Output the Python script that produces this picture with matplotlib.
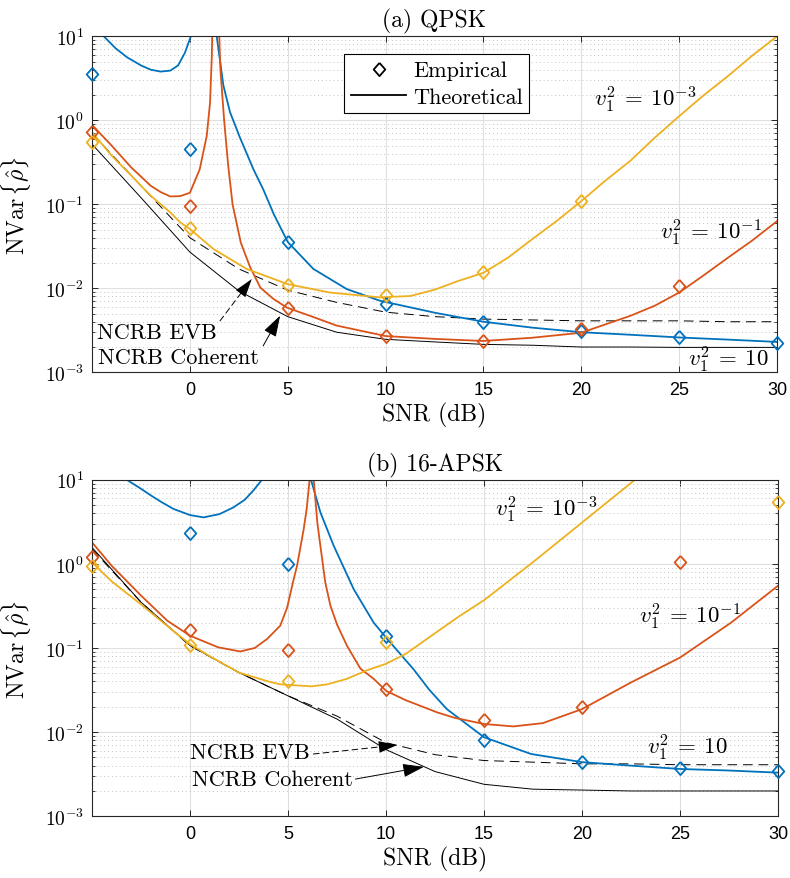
import numpy as np
import matplotlib
matplotlib.use("Agg")
import matplotlib.pyplot as plt
from matplotlib.ticker import LogLocator, NullFormatter
from matplotlib.lines import Line2D

plt.rcParams['font.family'] = 'serif'
plt.rcParams['font.serif'] = ['cmr10']
plt.rcParams['mathtext.fontset'] = 'cm'
plt.rcParams['axes.formatter.use_mathtext'] = True
plt.rcParams['xtick.direction'] = 'in'
plt.rcParams['ytick.direction'] = 'in'
plt.rcParams['xtick.top'] = True
plt.rcParams['ytick.right'] = True

BLUE = '#0072BD'
ORANGE = '#D95319'
YELLOW = '#EDB120'
nan = np.nan

# ---- (a) QPSK : theoretical curves (nan splits the branches around the pole)
qpsk_v10_snr = [-4.4, -3.8, -3.2, -2.5, -2.0, -1.5, -1.0, -0.6, -0.25, 0.05, nan,
                1.37, 1.71, 2.05, 2.56, 3.24, 3.75, 4.3, 5.0, 6.31, 8.01, 9.72,
                12.55, 15, 17.5, 20, 22.5, 25, 27.5, 30]
qpsk_v10_val = [10, 7.2, 5.6, 4.5, 4.0, 3.8, 3.9, 4.5, 6.4, 10, nan,
                10, 2.6, 1.25, 0.62, 0.263, 0.15, 0.075, 0.0356, 0.017, 0.0098, 0.0071,
                0.0051, 0.0040, 0.0034, 0.0030, 0.0028, 0.0026, 0.00245, 0.0023]
qpsk_v1e1_snr = [-5, -4, -3, -2, -1.5, -1, -0.5, 0, 0.5, 0.86, 1.03, 1.12, 1.14, nan,
                 1.5, 1.56, 1.75, 1.95, 2.18, 2.6, 3.07, 3.6, 4.26, 4.95, 6.14, 7.5, 10,
                 12.5, 15, 17.5, 20, 21.2, 22.5, 23.75, 25, 26.2, 27.5, 28.7, 30]
qpsk_v1e1_val = [0.88, 0.5, 0.275, 0.166, 0.14, 0.124, 0.125, 0.137, 0.26, 0.65, 1.62, 5.8, 10, nan,
                 10, 4.0, 1.0, 0.3, 0.1, 0.035, 0.018, 0.0102, 0.0075, 0.0059, 0.0047, 0.0036, 0.0027,
                 0.0025, 0.00236, 0.00258, 0.00296, 0.0037, 0.0047, 0.0062, 0.0089, 0.014, 0.0232,
                 0.0366, 0.063]
qpsk_v1e3_snr = [-5, -4, -3, -2, -1, -0.5, 0, 1.2, 2.9, 5, 7.16, 9.72, 11.27, 12.55, 13.7,
                 15, 16.26, 17.46, 18.73, 20, 21.2, 22.49, 23.75, 25, 26.2, 27.5, 28.7, 30]
qpsk_v1e3_val = [0.72, 0.38, 0.22, 0.126, 0.08, 0.061, 0.0508, 0.0294, 0.017, 0.0112, 0.0089,
                 0.0078, 0.0081, 0.0097, 0.0122, 0.0153, 0.0232, 0.038, 0.063, 0.109, 0.189,
                 0.327, 0.62, 1.12, 1.94, 3.37, 5.8, 10]

ncrb_snr = [-5, -2.5, 0, 2.5, 5, 7.5, 10, 12.5, 15, 17.5, 20, 22.5, 25, 27.5, 30]
qpsk_coh = [0.52, 0.12, 0.027, 0.0093, 0.0046, 0.0030, 0.00247, 0.0023, 0.00215, 0.0021,
            0.002, 0.002, 0.00198, 0.00198, 0.00198]
qpsk_evb = [0.7, 0.166, 0.04, 0.017, 0.0095, 0.0068, 0.0052, 0.0046, 0.0043, 0.0042,
            0.0041, 0.0041, 0.0041, 0.0040, 0.0040]

# (a) QPSK : empirical points
qpsk_emp_v10_snr = [-5, 0, 5, 10, 15, 20, 25, 30]
qpsk_emp_v10 = [3.56, 0.455, 0.036, 0.0065, 0.0040, 0.0031, 0.0026, 0.00223]
qpsk_emp_v1e1_snr = [-5, 0, 5, 10, 15, 20, 25]
qpsk_emp_v1e1 = [0.73, 0.0946, 0.0059, 0.00268, 0.00238, 0.0033, 0.0107]
qpsk_emp_v1e3_snr = [-5, 0, 5, 10, 15, 20]
qpsk_emp_v1e3 = [0.556, 0.052, 0.011, 0.0083, 0.0155, 0.11]

# ---- (b) 16-APSK : theoretical curves
apsk_v10_snr = [-3.23, -2.5, -2.04, -1.5, -0.85, 0, 0.69, 1.5, 2.22, 2.8, 3.24, 3.67, nan,
                6.17, 6.65, 7.33, 8.35, 9.37, 10.06, 11.4, 12.2, 13.1, 15, 17.4, 20, 22.5,
                25, 27.5, 30]
apsk_v10_val = [10, 7.8, 6.6, 5.5, 4.5, 3.8, 3.57, 3.9, 4.7, 5.8, 7.5, 10, nan,
                10, 4.1, 1.64, 0.50, 0.2, 0.128, 0.056, 0.032, 0.0188, 0.0087, 0.0055,
                0.0044, 0.0040, 0.00365, 0.0035, 0.0033]
apsk_v1e1_snr = [-5, -4, -2.5, -1.16, 0, 1.43, 2.56, 3.3, 3.93, 4.6, 4.95, 5.29, 5.46, 5.8,
                 5.95, 6.1, nan, 6.31, 6.5, 6.65, 6.9, 7.16, 7.5, 8.01, 8.69, 9.37, 10, 11,
                 12, 12.6, 13.5, 15, 16.5, 18, 20, 22.5, 25, 27.6, 30]
apsk_v1e1_val = [1.8, 0.95, 0.42, 0.211, 0.14, 0.102, 0.091, 0.1, 0.128, 0.184, 0.3, 0.66,
                 0.95, 2.6, 4.5, 10, nan, 10, 3.0, 1.64, 0.6, 0.32, 0.19, 0.106, 0.057, 0.043,
                 0.031, 0.024, 0.0195, 0.0172, 0.0148, 0.0125, 0.0117, 0.0128, 0.0188,
                 0.039, 0.077, 0.2, 0.55]
apsk_v1e3_snr = [-5, -4, -2.5, -1, 0, 1, 2.5, 4, 4.6, 5.8, 6.2, 7, 8, 9, 10, 11, 12.5,
                 13.75, 15, 17.5, 20, 22.7]
apsk_v1e3_val = [1.04, 0.62, 0.33, 0.17, 0.111, 0.08, 0.051, 0.04, 0.037, 0.0355, 0.035,
                 0.037, 0.043, 0.054, 0.065, 0.085, 0.15, 0.24, 0.37, 1.05, 3.1, 10]
apsk_coh = [1.57, 0.35, 0.107, 0.051, 0.027, 0.0143, 0.0062, 0.0034, 0.0024, 0.0021,
            0.00205, 0.002, 0.002, 0.002, 0.002]
apsk_evb = [1.5, 0.35, 0.106, 0.051, 0.027, 0.0155, 0.0075, 0.0054, 0.0046, 0.0044,
            0.0042, 0.0042, 0.0041, 0.0041, 0.0041]

# (b) 16-APSK : empirical points
apsk_emp_v10_snr = [0, 5, 10, 15, 20, 25, 30]
apsk_emp_v10 = [2.31, 1.01, 0.14, 0.0081, 0.00446, 0.0037, 0.00342]
apsk_emp_v1e1_snr = [-5, 0, 5, 10, 15, 20, 25]
apsk_emp_v1e1 = [1.2, 0.165, 0.0955, 0.0326, 0.0139, 0.0197, 1.04]
apsk_emp_v1e3_snr = [-5, 0, 5, 10, 30]
apsk_emp_v1e3 = [0.95, 0.11, 0.041, 0.117, 5.4]

xtick_vals = [0, 5, 10, 15, 20, 25, 30]
ytick_vals = [1e-3, 1e-2, 1e-1, 1e0, 1e1]
ytick_labels = [r'$\mathsf{10^{-3}}$', r'$\mathsf{10^{-2}}$', r'$\mathsf{10^{-1}}$',
                r'$\mathsf{10^{0}}$', r'$\mathsf{10^{1}}$']

diamond = [(0, 1), (0.88, 0), (0, -1), (-0.88, 0), (0, 1)]


def setup_axes(ax, title):
    ax.set_yscale('log')
    ax.set_xlim(-5, 30)
    ax.set_ylim(1e-3, 1e1)
    ax.set_xticks(xtick_vals, labels=[str(v) for v in xtick_vals],
                  fontfamily='Liberation Sans', fontsize=13)
    ax.set_yticks(ytick_vals, labels=ytick_labels, fontsize=14)
    ax.yaxis.set_minor_locator(LogLocator(base=10, subs=np.arange(2, 10)))
    ax.yaxis.set_minor_formatter(NullFormatter())
    ax.tick_params(which='major', length=4, width=0.7, pad=6, color='#262626')
    ax.tick_params(which='minor', length=2.2, width=0.6, color='#262626')
    ax.grid(True, which='major', color='#dfdfdf', lw=0.8)
    ax.grid(True, which='minor', axis='y', color='#c4c4c4', lw=0.7, ls=(0, (1, 3)))
    ax.set_axisbelow(True)
    for s in ax.spines.values():
        s.set_color('#262626')
        s.set_linewidth(0.8)
    ax.set_xlabel('SNR (dB)', fontsize=17, labelpad=3)
    ax.set_ylabel(r'$\mathrm{NVar}\,\{\hat{\rho}\}$', fontsize=17, labelpad=8)
    ax.set_title(title, fontsize=17, pad=7)


def draw(ax, theo, emp, coh, evb):
    ax.plot(ncrb_snr, evb, color='k', lw=0.7, ls=(0, (10, 6)))
    ax.plot(ncrb_snr, coh, color='k', lw=0.7)
    for (x, y), c in zip(theo, [BLUE, ORANGE, YELLOW]):
        ax.plot(x, y, color=c, lw=1.3)
    for (x, y), c in zip(emp, [BLUE, ORANGE, YELLOW]):
        ax.plot(x, y, ls='none', marker=diamond, ms=9.5, mfc='none', mec=c, mew=1.3,
                clip_on=False, zorder=3)


def arrow(ax, tail, head, dashed=False):
    style = '-|>,head_length=1.1,head_width=0.35'
    if dashed:
        ax.annotate('', xy=head, xytext=tail,
                    arrowprops=dict(arrowstyle='-', color='k', lw=0.7, ls=(0, (6, 4)),
                                    shrinkA=0, shrinkB=8))
        ax.annotate('', xy=head, xytext=tail,
                    arrowprops=dict(arrowstyle=style, color='k', lw=0, mutation_scale=12,
                                    shrinkA=0, shrinkB=0))
    else:
        ax.annotate('', xy=head, xytext=tail,
                    arrowprops=dict(arrowstyle=style, color='k', lw=0.7, mutation_scale=12,
                                    shrinkA=0, shrinkB=0))


fig = plt.figure(figsize=(7.9, 8.79), dpi=100)
ax1 = fig.add_axes([0.1165, 0.5753, 0.8671, 0.3823])
ax2 = fig.add_axes([0.1165, 0.0702, 0.8684, 0.3829])

setup_axes(ax1, '(a) QPSK')
draw(ax1,
     [(qpsk_v10_snr, qpsk_v10_val), (qpsk_v1e1_snr, qpsk_v1e1_val), (qpsk_v1e3_snr, qpsk_v1e3_val)],
     [(qpsk_emp_v10_snr, qpsk_emp_v10), (qpsk_emp_v1e1_snr, qpsk_emp_v1e1),
      (qpsk_emp_v1e3_snr, qpsk_emp_v1e3)],
     qpsk_coh, qpsk_evb)
ax1.text(-4.74, 0.0030, 'NCRB EVB', fontsize=16, va='center', ha='left')
ax1.text(-4.70, 0.0015, 'NCRB Coherent', fontsize=16, va='center', ha='left')
arrow(ax1, (1.54, 0.0041), (3.16, 0.0129), dashed=True)
arrow(ax1, (3.74, 0.00206), (4.61, 0.00472))
ax1.text(23.26, 1.8, r'$v_1^2\:=\:10^{-3}$', fontsize=16.5, ha='center', va='center')
ax1.text(26.6, 0.047, r'$v_1^2\:=\:10^{-1}$', fontsize=16.5, ha='center', va='center')
ax1.text(27.5, 0.00144, r'$v_1^2\:=\:10$', fontsize=16.5, ha='center', va='center')

handles = [Line2D([], [], ls='none', marker=diamond, ms=9.5, mfc='none', mec='k', mew=1.3),
           Line2D([], [], color='k', lw=1.3)]
leg = ax1.legend(handles, ['Empirical', 'Theoretical'], loc='upper left',
                 bbox_to_anchor=(0.368, 0.947), borderaxespad=0, fontsize=16,
                 fancybox=False, framealpha=1, edgecolor='k', borderpad=0.3,
                 labelspacing=0.3, handletextpad=0.3, handlelength=2.5)
leg.get_frame().set_linewidth(0.8)

setup_axes(ax2, '(b) 16-APSK')
draw(ax2,
     [(apsk_v10_snr, apsk_v10_val), (apsk_v1e1_snr, apsk_v1e1_val), (apsk_v1e3_snr, apsk_v1e3_val)],
     [(apsk_emp_v10_snr, apsk_emp_v10), (apsk_emp_v1e1_snr, apsk_emp_v1e1),
      (apsk_emp_v1e3_snr, apsk_emp_v1e3)],
     apsk_coh, apsk_evb)
ax2.text(0.01, 0.00575, 'NCRB EVB', fontsize=16, va='center', ha='left')
ax2.text(0.11, 0.00277, 'NCRB Coherent', fontsize=16, va='center', ha='left')
arrow(ax2, (6.29, 0.0055), (10.57, 0.00703), dashed=True)
arrow(ax2, (8.44, 0.00277), (11.93, 0.00387))
ax2.text(18.15, 4.49, r'$v_1^2\:=\:10^{-3}$', fontsize=16.5, ha='center', va='center')
ax2.text(25.48, 0.242, r'$v_1^2\:=\:10^{-1}$', fontsize=16.5, ha='center', va='center')
ax2.text(25.38, 0.0066, r'$v_1^2\:=\:10$', fontsize=16.5, ha='center', va='center')

fig.savefig('out.png', dpi=100)
